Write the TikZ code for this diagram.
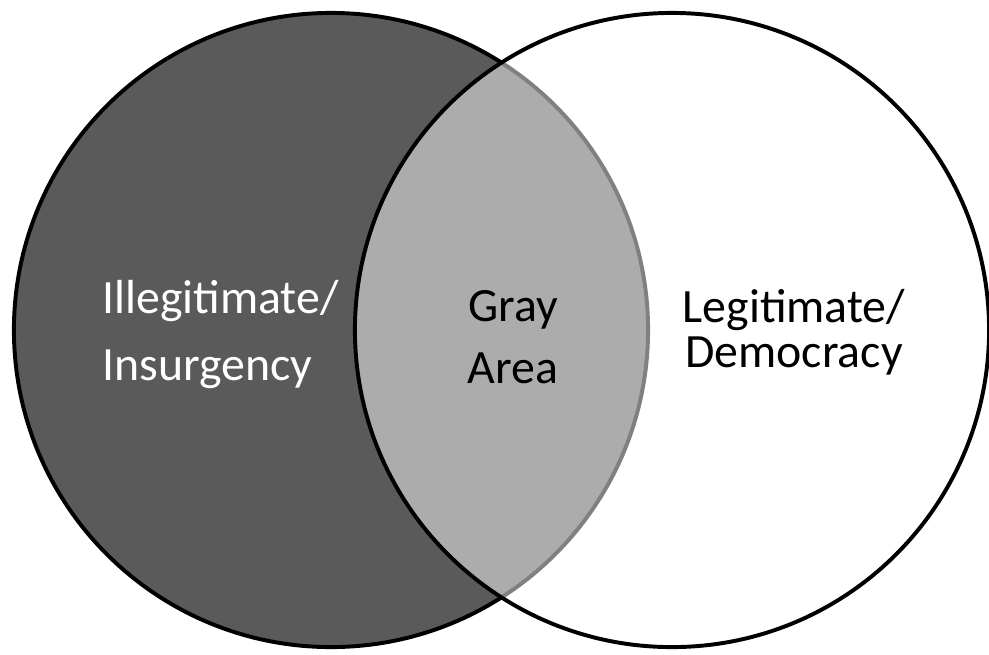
\documentclass[tikz,border=0pt]{standalone}
\usepackage{fontspec}
\setmainfont{Carlito}
\usepackage{tikz}

\definecolor{darkset}{HTML}{5A5A5A}

\begin{document}
\begin{tikzpicture}[x=0.025cm,y=-0.025cm,
  setcircle/.style={circle, draw=black, line width=2.8pt, minimum size=15.85cm, inner sep=0pt},
  setlabel/.style={inner sep=0pt, font=\fontsize{34}{#1}\selectfont}]
%\draw[help lines] (0,0) grid (989,654);
\useasboundingbox (0,0) rectangle (989,654);
\node (illeg) [setcircle, fill=darkset] at (331,330) {};
\node (leg) [setcircle, fill=white, fill opacity=0.5, text opacity=1] at (672,330) {};
\node (insurg) [setlabel=47.6, text=white, align=left, anchor=base west] at (102,380) {Illegitimate/\\Insurgency};
\node (gray) [setlabel=43.4, align=center, anchor=base] at (513,383) {Gray\\Area};
\node (democ) [setlabel=31.3, align=center, anchor=base] at (794,367) {Legitimate/\\Democracy};
\end{tikzpicture}
\end{document}
